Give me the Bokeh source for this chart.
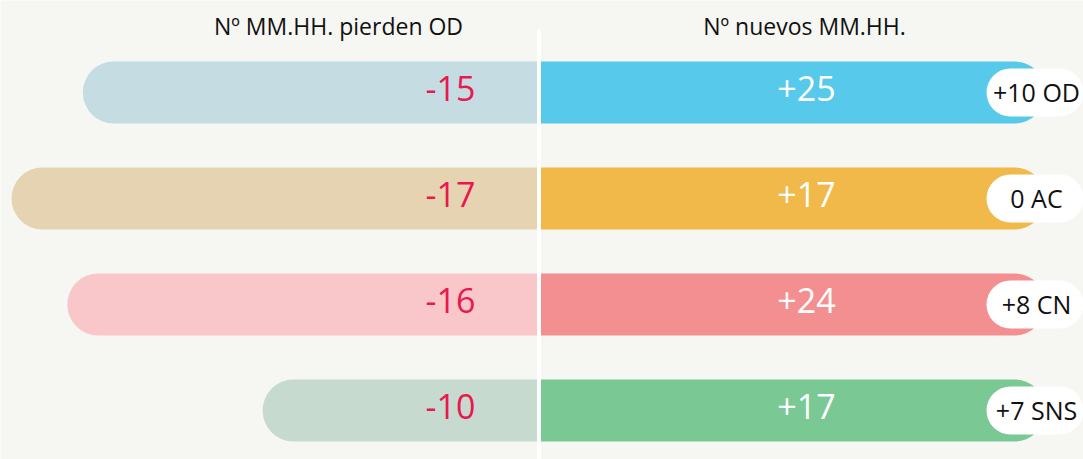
from bokeh.plotting import figure
from bokeh.models import Range1d, ColumnDataSource
from bokeh.core.properties import value
from bokeh.embed import file_html
from bokeh.resources import INLINE

# ---- data ----
parties = ["OD", "AC", "CN", "SNS"]
lost = [-15, -17, -16, -10]            # Nº MM.HH. pierden OD
new = [25, 17, 24, 17]                 # Nº nuevos MM.HH.
net_labels = ["+10 OD", "0 AC", "+8 CN", "+7 SNS"]
lost_labels = ["-15", "-17", "-16", "-10"]
new_labels = ["+25", "+17", "+24", "+17"]
# bar extents as drawn in the picture (same unit scale on both sides)
lost_extent = [14.7, 17.0, 15.2, 8.9]
new_extent = [16.35, 16.35, 16.35, 16.35]
light_colors = ["#c5dce2", "#e6d3b2", "#f9c6c9", "#c7dacf"]
dark_colors = ["#57c9ea", "#f0b94a", "#f48f91", "#7ac894"]
titles = ["Nº MM.HH. pierden OD", "Nº nuevos MM.HH."]

BG = "#f6f6f2"
FONT = "Open Sans"
rows = list(range(len(parties)))

W, HT = 1083, 459
U = 31.0    # px per unit (horizontal)
R = 106.0   # px per row (vertical)
p = figure(width=W, height=HT, output_backend="svg", toolbar_location=None,
           x_range=Range1d(-538 / U, (W - 538) / U),
           y_range=Range1d((HT - 92) / R, -92 / R),
           min_border=0, background_fill_color=BG, border_fill_color=BG,
           outline_line_color=None)
p.axis.visible = False
p.grid.visible = False

src = ColumnDataSource(dict(
    y=rows,
    lost_left=[-e for e in lost_extent],
    new_right=new_extent,
    light=light_colors, dark=dark_colors,
    lost_lab=lost_labels, new_lab=new_labels, net=net_labels,
))

H = 62 / R
p.hbar(y="y", left="lost_left", right=0, height=H, fill_color="light", line_color=None,
       border_radius=(31, 0, 0, 31), source=src)
p.hbar(y="y", left=0, right="new_right", height=H, fill_color="dark", line_color=None,
       border_radius=(0, 31, 31, 0), source=src)

# centre divider
p.segment(x0=[0.5 / U], x1=[0.5 / U], y0=[(29 - 92) / R], y1=[3.6],
          line_color="white", line_width=4)

# net pills
PC = (1036 - 538) / U
PW = 100 / U / 2
p.hbar(y="y", left=PC - PW, right=PC + PW, height=48 / R, fill_color="white",
       line_color=None, border_radius=24, source=src)
p.text(x=PC, y="y", text="net", text_align="center", text_baseline="middle",
       y_offset=-1, text_font=value(FONT), text_font_size="25px",
       text_color="#111111", source=src)

p.text(x=(450 - 538) / U, y="y", text="lost_lab", text_align="center",
       text_baseline="middle", y_offset=-4, text_font=value(FONT),
       text_font_size="34px", text_color="#e8194f", source=src)
p.text(x=(806 - 538) / U, y="y", text="new_lab", text_align="center",
       text_baseline="middle", y_offset=-4, text_font=value(FONT),
       text_font_size="34px", text_color="white", source=src)

TY = (25 - 92) / R
p.text(x=[(338 - 538) / U, (804 - 538) / U], y=[TY, TY], text=titles, text_align="center",
       text_baseline="middle", text_font=value(FONT), text_font_size="23px",
       text_color="#111111")

open("out.html", "w").write(file_html(p, INLINE))
